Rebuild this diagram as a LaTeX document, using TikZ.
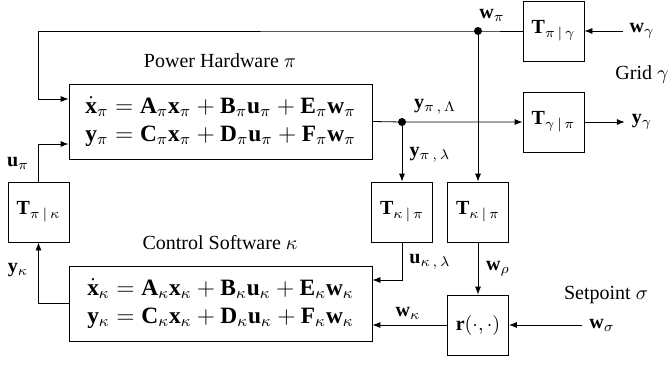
\documentclass[tikz,border=0pt]{standalone}
\usepackage{amsmath,amssymb}
\usepackage{fontspec}
\setmainfont{Liberation Serif}
\usepackage{tikz}
\usetikzlibrary{arrows.meta,positioning,calc}

\begin{document}
\begin{tikzpicture}[x=0.5pt,y=-0.5pt,
  block/.style={draw,minimum width=30.5pt,minimum height=30pt,inner sep=0pt},
  sysbox/.style={draw,minimum width=151.5pt,minimum height=37.5pt,inner sep=0pt,
    font=\fontsize{11.7}{14}\selectfont\setlength{\jot}{0pt}},
  arr/.style={-{Latex[length=4pt,width=3pt]}},
  junc/.style={circle,fill,inner sep=0pt,minimum size=4pt}]
\useasboundingbox (0,0) rectangle (668,364);
% system blocks
\node[sysbox] (hw) at (220.5,121.5) {\raisebox{-1.5pt}{$\begin{aligned}
 \dot{\mathbf{x}}_\pi &= \mathbf{A}_\pi\mathbf{x}_\pi + \mathbf{B}_\pi\mathbf{u}_\pi + \mathbf{E}_\pi\mathbf{w}_\pi\\
 \mathbf{y}_\pi &= \mathbf{C}_\pi\mathbf{x}_\pi + \mathbf{D}_\pi\mathbf{u}_\pi + \mathbf{F}_\pi\mathbf{w}_\pi
 \end{aligned}$}};
\node[sysbox] (ctrl) at (220.5,303.5) {\raisebox{-1.5pt}{$\begin{aligned}
 \dot{\mathbf{x}}_\kappa &= \mathbf{A}_\kappa\mathbf{x}_\kappa + \mathbf{B}_\kappa\mathbf{u}_\kappa + \mathbf{E}_\kappa\mathbf{w}_\kappa\\
 \mathbf{y}_\kappa &= \mathbf{C}_\kappa\mathbf{x}_\kappa + \mathbf{D}_\kappa\mathbf{u}_\kappa + \mathbf{F}_\kappa\mathbf{w}_\kappa
 \end{aligned}$}};
\node (hwlbl) at (220,61) {Power Hardware $\pi$};
\node (ctrllbl) at (220,243) {Control Software $\kappa$};
% transformation blocks
\node[block] (Tpg) at (553.5,31) {$\mathbf{T}_{\pi\,|\,\gamma}$};
\node[block] (Tgp) at (553.5,122) {$\mathbf{T}_{\gamma\,|\,\pi}$};
\node[block] (Tpk) at (38.5,212) {$\mathbf{T}_{\pi\,|\,\kappa}$};
\node[block] (Tkp) at (402,212) {$\mathbf{T}_{\kappa\,|\,\pi}$};
\node[block] (Tkpw) at (478,212) {$\mathbf{T}_{\kappa\,|\,\pi}$};
\node[block] (ref) at (478,325) {$\mathbf{r}(\cdot,\cdot)$};
% junctions
\node[junc] (wpi) at (478,31) {};
\node[junc] (ypi) at (402,122) {};
% signals
\node (wgam) at (642,31) {$\mathbf{w}_\gamma$};
\node (ygam) at (642,122) {$\mathbf{y}_\gamma$};
\node (wsig) at (602,325) {$\mathbf{w}_\sigma$};
\node (grid) at (642,75) {Grid $\gamma$};
\node (setp) at (606,295) {Setpoint $\sigma$};
\node (wpilbl) at (492,15) {$\mathbf{w}_\pi$};
\node (yLlbl) at (435,107) {$\mathbf{y}_{\pi\,,\,\Lambda}$};
\node (yllbl) at (430,155) {$\mathbf{y}_{\pi\,,\,\lambda}$};
\node (ukllbl) at (430,262) {$\mathbf{u}_{\kappa\,,\,\lambda}$};
\node (wrholbl) at (498,269) {$\mathbf{w}_\rho$};
\node (wklbl) at (408,313) {$\mathbf{w}_\kappa$};
\node (upilbl) at (18,163) {$\mathbf{u}_\pi$};
\node (yklbl) at (18,270) {$\mathbf{y}_\kappa$};
% connections
\draw[arr] (wgam) -- (Tpg);
\draw[arr] (Tpg) -- (wpi.center) -- (Tpk.north |- wpi) |- (hw.west |- 0,99);
\draw[arr] (wpi.center) -- (Tkpw);
\draw[arr] (Tpk) |- (hw.west |- 0,144);
\draw[arr] (ctrl.west) -| (Tpk);
\draw[arr] (hw.east) -- (ypi.center) -- (Tgp);
\draw[arr] (Tgp) -- (ygam);
\draw[arr] (ypi.center) -- (Tkp);
\draw[arr] (Tkp) |- (ctrl.east |- 0,280);
\draw[arr] (Tkpw) -- (ref);
\draw[arr] (ref) -- (ctrl.east |- ref);
\draw[arr] (wsig) -- (ref);
\end{tikzpicture}
\end{document}
